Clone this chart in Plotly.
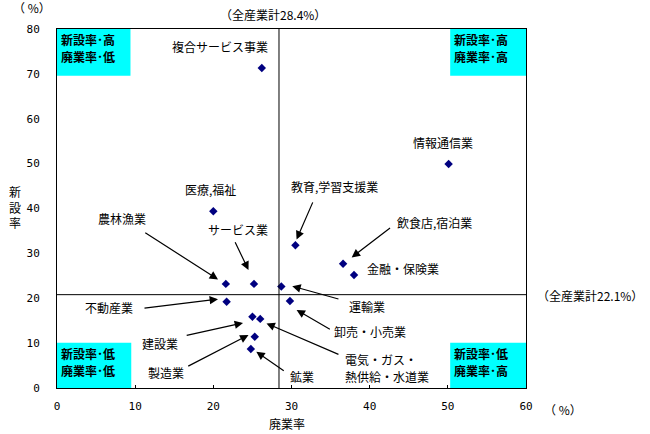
import plotly.graph_objects as go

# ---- data ----
industries = ["複合サービス事業", "情報通信業", "医療,福祉", "教育,学習支援業", "飲食店,宿泊業",
              "金融・保険業", "農林漁業", "サービス業", "運輸業", "不動産業", "卸売・小売業",
              "建設業", "電気・ガス・熱供給・水道業", "製造業", "鉱業"]
closure_rate = [26.2, 50.1, 20.0, 30.5, 36.6, 38.0, 21.6, 25.2, 28.7, 21.7, 29.8, 25.0, 26.0, 25.3, 24.8]
open_rate = [71.3, 49.9, 39.4, 31.8, 27.7, 25.2, 23.2, 23.2, 22.6, 19.2, 19.4, 15.9, 15.4, 11.4, 8.7]

avg_closure = 28.4      # 全産業計 廃業率
avg_open_line = 20.8    # position of horizontal reference line as drawn
x_ticks = [0, 10, 20, 30, 40, 50, 60]
y_ticks = [0, 10, 20, 30, 40, 50, 60, 70, 80]

# label positions (text, x, y, xanchor)
labels = [
    ("複合サービス事業", 20.8, 76.2, "center"),
    ("情報通信業", 49.4, 54.6, "center"),
    ("医療,福祉", 19.6, 44.3, "center"),
    ("教育,学習支援業", 35.5, 45.0, "center"),
    ("飲食店,宿泊業", 48.3, 36.8, "center"),
    ("金融・保険業", 44.3, 26.7, "center"),
    ("農林漁業", 8.3, 37.8, "center"),
    ("サービス業", 23.2, 35.3, "center"),
    ("運輸業", 39.7, 18.1, "center"),
    ("不動産業", 6.6, 17.9, "center"),
    ("卸売・小売業", 40.0, 12.5, "center"),
    ("建設業", 13.2, 10.0, "center"),
    ("電気・ガス・", 36.6, 6.3, "left"),
    ("熱供給・水道業", 36.6, 2.6, "left"),
    ("製造業", 14.0, 3.4, "center"),
    ("鉱業", 31.3, 2.5, "center"),
]
# arrows (tail x, tail y, head x, head y)
arrows = [
    (11.1, 34.8, 20.6, 24.2),
    (22.7, 32.8, 24.5, 26.3),
    (32.8, 41.7, 30.65, 33.1),
    (42.8, 35.9, 37.7, 29.1),
    (36.2, 19.75, 30.1, 22.7),
    (35.1, 12.9, 30.65, 17.4),
    (36.2, 7.35, 26.8, 14.4),
    (29.2, 3.6, 25.5, 8.1),
    (16.6, 4.7, 24.5, 11.8),
    (16.4, 11.65, 23.8, 14.5),
    (11.0, 17.75, 20.6, 19.8),
]
# quadrant boxes (x0, x1, y0, y1, line1, line2)
boxes = [
    (0, 9.4, 69.6, 80, "新設率･高", "廃業率･低"),
    (50.3, 60, 69.6, 80, "新設率･高", "廃業率･高"),
    (0, 9.5, 0, 10.1, "新設率･低", "廃業率･低"),
    (50.3, 60, 0, 10.1, "新設率･低", "廃業率･高"),
]

FONT = "Noto Sans CJK JP"

fig = go.Figure()
fig.add_trace(go.Scatter(
    x=closure_rate, y=open_rate, mode="markers", text=industries,
    marker=dict(symbol="diamond", size=6.5, color="#000080"),
    hoverinfo="text+x+y", showlegend=False, cliponaxis=False))

shapes = []
annotations = []
for x0, x1, y0, y1, t1, t2 in boxes:
    shapes.append(dict(type="rect", xref="x", yref="y", x0=x0, x1=x1, y0=y0, y1=y1,
                       fillcolor="#00FFFF", line=dict(width=0), layer="below"))
    for t, dy in ((t1, 2.3), (t2, 6.1)):
        annotations.append(dict(x=x0 + 0.4, y=y1 - dy, xref="x", yref="y", text="<b>" + t + "</b>",
                                showarrow=False, xanchor="left", yanchor="middle", align="left",
                                borderpad=0,
                                font=dict(family=FONT, size=12, color="black")))
shapes.append(dict(type="line", xref="x", yref="y", x0=avg_closure, x1=avg_closure, y0=0, y1=80,
                   line=dict(color="black", width=1)))
shapes.append(dict(type="line", xref="x", yref="y", x0=-0.3, x1=60, y0=avg_open_line, y1=avg_open_line,
                   line=dict(color="black", width=1)))

for t, x, y, xa in labels:
    annotations.append(dict(x=x, y=y, xref="x", yref="y", text=t, showarrow=False,
                            xanchor=xa, yanchor="middle", align="left",
                            font=dict(family=FONT, size=12, color="black")))
for tx, ty, hx, hy in arrows:
    annotations.append(dict(x=hx, y=hy, ax=tx, ay=ty, xref="x", yref="y", axref="x", ayref="y",
                            text="", showarrow=True, arrowhead=2, arrowsize=1.4, arrowwidth=1.2,
                            arrowcolor="black", standoff=0))

extra = [
    ("新<br>設<br>率", -0.089, 0.504),
    ("（ %）", -0.053, 1.06),
    ("（全産業計28.4%）", 0.46, 1.039),
    ("（全産業計22.1%）", 1.137, 0.259),
    ("（ %）", 1.079, -0.0585),
    ("廃業率", 0.49, -0.0975),
]
for t, x, y in extra:
    annotations.append(dict(x=x, y=y, xref="paper", yref="paper", text=t, showarrow=False,
                            xanchor="center", yanchor="middle",
                            font=dict(family=FONT, size=12, color="black")))

fig.update_layout(
    width=650, height=434,
    margin=dict(l=57, r=124, t=29, b=46),
    paper_bgcolor="white", plot_bgcolor="white",
    shapes=shapes, annotations=annotations,
    xaxis=dict(range=[0, 60], tickvals=x_ticks, showgrid=False, zeroline=False,
               showline=True, linecolor="black", linewidth=1, mirror=True,
               ticks="inside", ticklen=3, tickcolor="black", ticklabelstandoff=8,
               tickfont=dict(family="DejaVu Sans Mono", size=11, color="black")),
    yaxis=dict(range=[0, 80], tickvals=y_ticks, showgrid=False, zeroline=False,
               showline=True, linecolor="black", linewidth=1, mirror=True,
               ticks="", ticklabelstandoff=14,
               tickfont=dict(family="DejaVu Sans Mono", size=11, color="black")),
)

fig.write_html("out.html")
